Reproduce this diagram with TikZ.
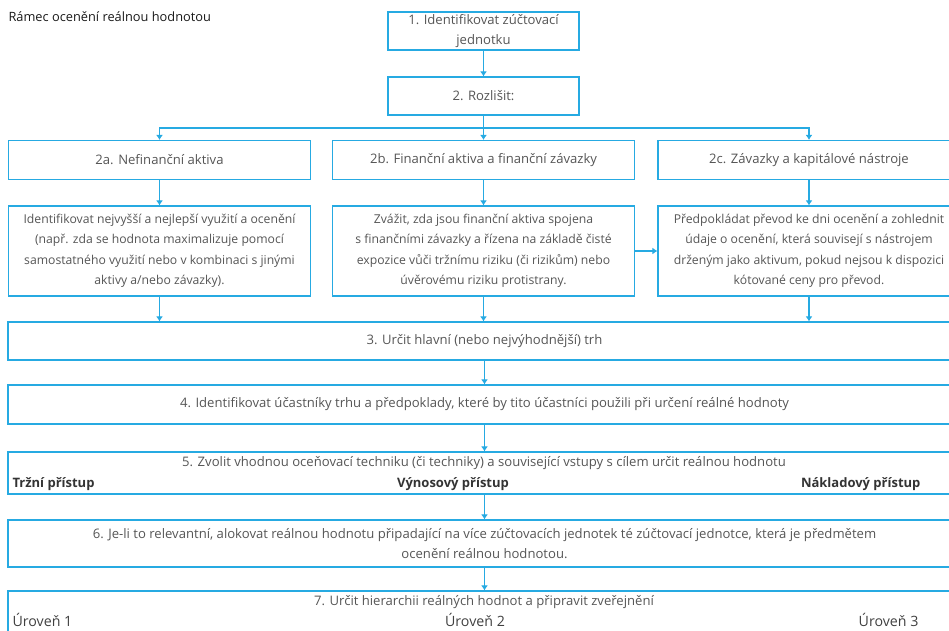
\documentclass[tikz,border=0pt]{standalone}
\usepackage{fontspec}
\setmainfont{Open Sans}
\usepackage{tikz}
\usetikzlibrary{arrows.meta,positioning}
\definecolor{fvblue}{RGB}{38,170,226}
\definecolor{fvtext}{RGB}{85,85,85}
\begin{document}
\begin{tikzpicture}[x=1pt,y=-1pt,->,>={Latex[length=5pt,width=7pt]},
        line width=1.1pt,draw=fvblue,
        font=\fontsize{13.1}{20.5}\selectfont,text=fvtext,
        box/.style={draw=fvblue,line width=1.2pt,align=center,inner sep=0pt},
        stepbox/.style={box,minimum width=191pt,minimum height=38pt},
        kindbox/.style={box,minimum width=302pt,minimum height=39pt},
        detbox/.style={box,minimum width=302pt,minimum height=90pt,font=\fontsize{12.2}{20.5}\selectfont},
        widebox/.style={box,minimum width=953pt},
        approach/.style={inner sep=0pt,font=\fontsize{13}{15}\selectfont\bfseries,text=black!80},
        level/.style={inner sep=0pt,font=\fontsize{14.2}{15}\selectfont,text=black!75}]
      \useasboundingbox (0,0) rectangle (949,630);
      \node[anchor=west,inner sep=0pt,text=black!90,font=\fontsize{12.8}{15}\selectfont] (title) at (8,17) {Rámec ocenění reálnou hodnotou};
      % kroky 1 a 2
      \node[stepbox] (s1) at (483.5,31) {1. Identifikovat zúčtovací\\jednotku};
      \node[stepbox] (s2) at (483.5,96) {2. Rozlišit:};
      \coordinate (split) at (483.5,128);
      % tri druhy polozek
      \node[kindbox] (k2a) at (159.5,160) {2a. Nefinanční aktiva};
      \node[kindbox] (k2b) at (483.5,160) {2b. Finanční aktiva a finanční závazky};
      \node[kindbox] (k2c) at (809,160) {2c. Závazky a kapitálové nástroje};
      \node[detbox] (d2a) at (159.5,251) {Identifikovat nejvyšší a nejlepší využití a ocenění\\(např. zda se hodnota maximalizuje pomocí\\samostatného využití nebo v kombinaci s jinými\\aktivy a/nebo závazky).};
      \node[detbox] (d2b) at (483.5,251) {Zvážit, zda jsou finanční aktiva spojena\\s finančními závazky a řízena na základě čisté\\expozice vůči tržnímu riziku (či rizikům) nebo\\úvěrovému riziku protistrany.};
      \node[detbox] (d2c) at (809,251) {Předpokládat převod ke dni ocenění a zohlednit\\údaje o ocenění, která souvisejí s nástrojem\\drženým jako aktivum, pokud nejsou k dispozici\\kótované ceny pro převod.};
      % kroky 3 az 7
      \node[widebox,minimum height=38pt] (s3) at (484.5,341) {3. Určit hlavní (nebo nejvýhodnější) trh};
      \node[widebox,minimum height=39pt] (s4) at (484.5,404.5) {4. Identifikovat účastníky trhu a předpoklady, které by tito účastníci použili při určení reálné hodnoty};
      \node[widebox,minimum height=42pt] (s5) at (484.5,473) {};
      \node[inner sep=0pt] (s5t) at (484,463) {5. Zvolit vhodnou oceňovací techniku (či techniky) a související vstupy s cílem určit reálnou hodnotu};
      \node[approach,anchor=west] (trz) at (12,484) {Tržní přístup};
      \node[approach] (vyn) at (453,484) {Výnosový přístup};
      \node[approach,anchor=east] (nak) at (921,484) {Nákladový přístup};
      \node[widebox,minimum height=47pt] (s6) at (484.5,543.5) {6. Je-li to relevantní, alokovat reálnou hodnotu připadající na více zúčtovacích jednotek té zúčtovací jednotce, která je předmětem\\ocenění reálnou hodnotou.};
      \node[widebox,minimum height=50pt] (s7) at (484.5,616) {};
      \node[inner sep=0pt] (s7t) at (484,602) {7. Určit hierarchii reálných hodnot a připravit zveřejnění};
      \node[level,anchor=west] (u1) at (12,620) {Úroveň 1};
      \node[level] (u2) at (475,620) {Úroveň 2};
      \node[level,anchor=east] (u3) at (919,620) {Úroveň 3};
      % spojnice
      \draw (s1) -- (s2);
      \draw[-] (s2) -- (split);
      \draw (split) -| (k2a);
      \draw (split) -- (k2b);
      \draw (split) -| (k2c);
      \foreach \col in {2a,2b,2c} {
        \draw (k\col) -- (d\col);
        \draw (d\col) -- (d\col.south |- s3.north);
      }
      \draw (d2b) -- (d2c);
      \draw (s3) -- (s4);
      \draw (s4) -- (s5);
      \draw (s5) -- (s6);
      \draw (s6) -- (s7);
    \end{tikzpicture}
\end{document}
